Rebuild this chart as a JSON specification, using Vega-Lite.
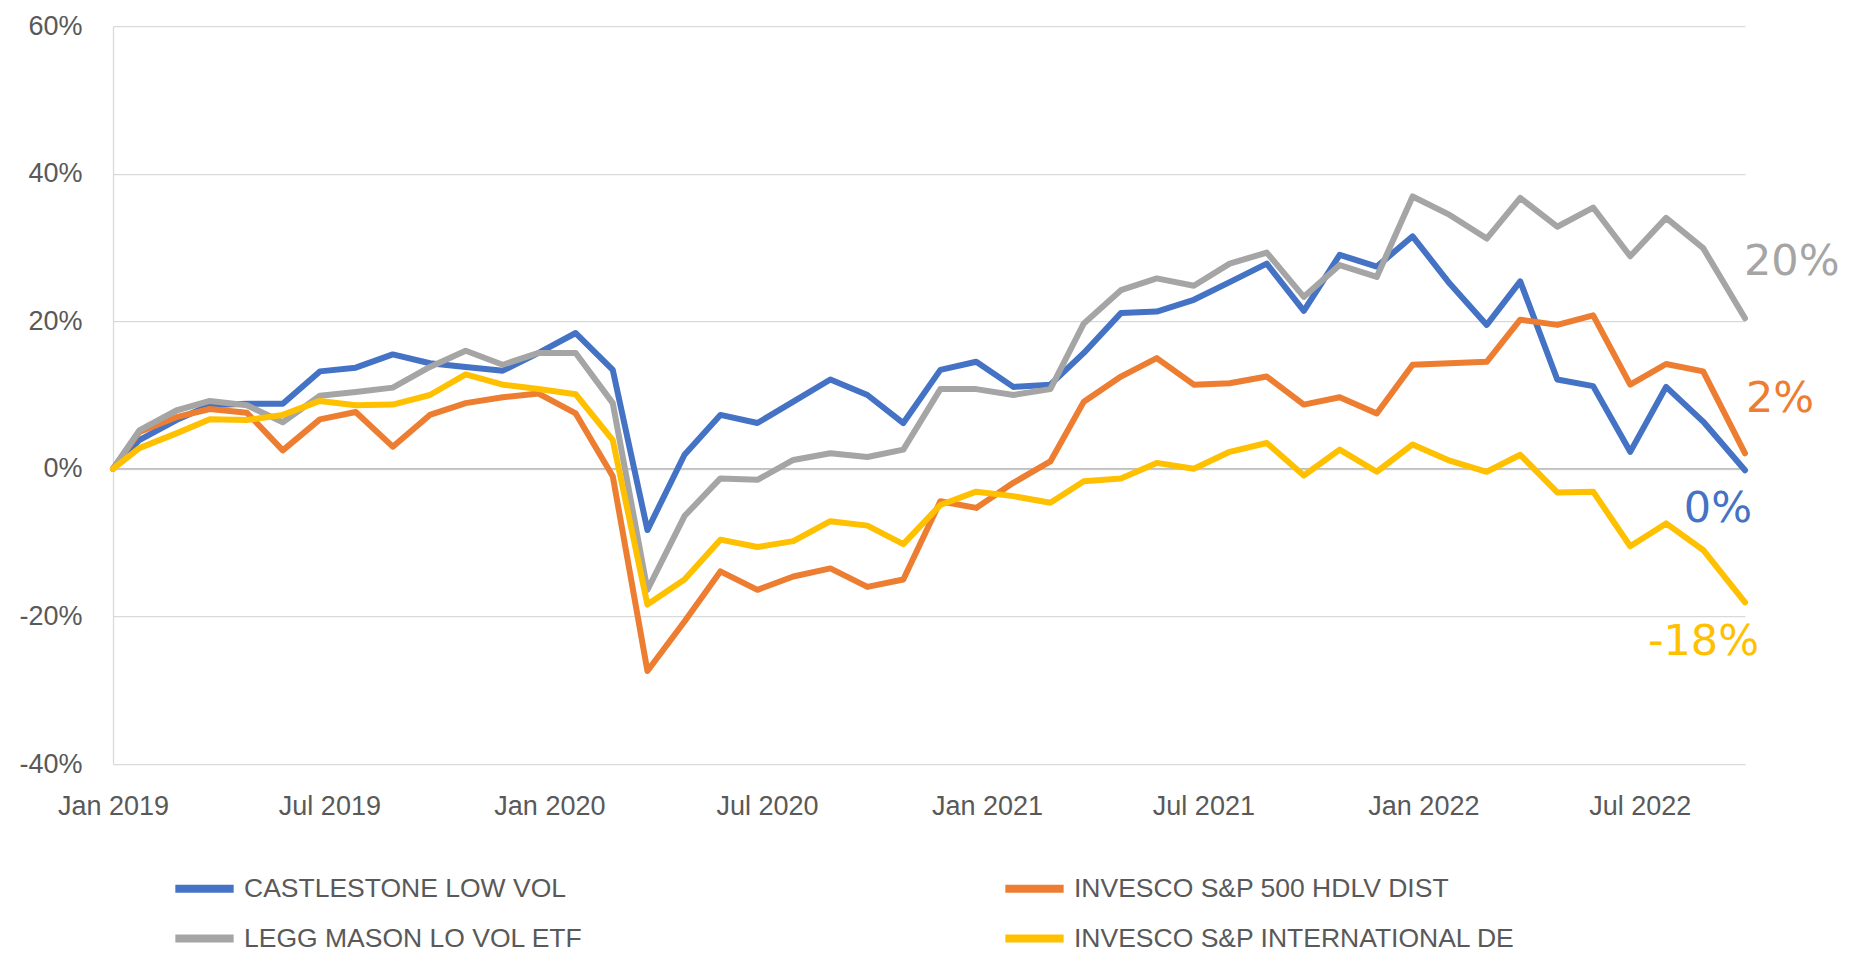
{
  "$schema": "https://vega.github.io/schema/vega-lite/v6.json",
  "width": 1632,
  "height": 738,
  "autosize": {"type": "none"},
  "padding": {"left": 113, "top": 26, "right": 120, "bottom": 197},
  "background": "white",
  "config": {"view": {"stroke": null}, "font": "Liberation Sans"},
  "datasets": {
    "series": [
      {"d": "2019-01-01", "CASTLESTONE LOW VOL": 0, "INVESCO S&P 500 HDLV DIST": 0, "LEGG MASON LO VOL ETF": 0, "INVESCO S&P INTERNATIONAL DE": 0},
      {"d": "2019-01-23", "CASTLESTONE LOW VOL": 3.9, "INVESCO S&P 500 HDLV DIST": 5.0, "LEGG MASON LO VOL ETF": 5.2, "INVESCO S&P INTERNATIONAL DE": 2.8},
      {"d": "2019-02-23", "CASTLESTONE LOW VOL": 6.6, "INVESCO S&P 500 HDLV DIST": 7.0, "LEGG MASON LO VOL ETF": 7.9, "INVESCO S&P INTERNATIONAL DE": 4.8},
      {"d": "2019-03-23", "CASTLESTONE LOW VOL": 8.6, "INVESCO S&P 500 HDLV DIST": 8.1, "LEGG MASON LO VOL ETF": 9.2, "INVESCO S&P INTERNATIONAL DE": 6.7},
      {"d": "2019-04-23", "CASTLESTONE LOW VOL": 8.8, "INVESCO S&P 500 HDLV DIST": 7.6, "LEGG MASON LO VOL ETF": 8.6, "INVESCO S&P INTERNATIONAL DE": 6.6},
      {"d": "2019-05-23", "CASTLESTONE LOW VOL": 8.8, "INVESCO S&P 500 HDLV DIST": 2.5, "LEGG MASON LO VOL ETF": 6.3, "INVESCO S&P INTERNATIONAL DE": 7.3},
      {"d": "2019-06-23", "CASTLESTONE LOW VOL": 13.2, "INVESCO S&P 500 HDLV DIST": 6.7, "LEGG MASON LO VOL ETF": 9.9, "INVESCO S&P INTERNATIONAL DE": 9.2},
      {"d": "2019-07-23", "CASTLESTONE LOW VOL": 13.7, "INVESCO S&P 500 HDLV DIST": 7.7, "LEGG MASON LO VOL ETF": 10.4, "INVESCO S&P INTERNATIONAL DE": 8.6},
      {"d": "2019-08-23", "CASTLESTONE LOW VOL": 15.5, "INVESCO S&P 500 HDLV DIST": 3.0, "LEGG MASON LO VOL ETF": 11.0, "INVESCO S&P INTERNATIONAL DE": 8.7},
      {"d": "2019-09-23", "CASTLESTONE LOW VOL": 14.3, "INVESCO S&P 500 HDLV DIST": 7.3, "LEGG MASON LO VOL ETF": 13.8, "INVESCO S&P INTERNATIONAL DE": 10.0},
      {"d": "2019-10-23", "CASTLESTONE LOW VOL": 13.8, "INVESCO S&P 500 HDLV DIST": 8.9, "LEGG MASON LO VOL ETF": 16.0, "INVESCO S&P INTERNATIONAL DE": 12.8},
      {"d": "2019-11-23", "CASTLESTONE LOW VOL": 13.3, "INVESCO S&P 500 HDLV DIST": 9.7, "LEGG MASON LO VOL ETF": 14.1, "INVESCO S&P INTERNATIONAL DE": 11.4},
      {"d": "2019-12-23", "CASTLESTONE LOW VOL": 15.7, "INVESCO S&P 500 HDLV DIST": 10.2, "LEGG MASON LO VOL ETF": 15.7, "INVESCO S&P INTERNATIONAL DE": 10.8},
      {"d": "2020-01-23", "CASTLESTONE LOW VOL": 18.4, "INVESCO S&P 500 HDLV DIST": 7.5, "LEGG MASON LO VOL ETF": 15.7, "INVESCO S&P INTERNATIONAL DE": 10.1},
      {"d": "2020-02-23", "CASTLESTONE LOW VOL": 13.4, "INVESCO S&P 500 HDLV DIST": -1.0, "LEGG MASON LO VOL ETF": 8.9, "INVESCO S&P INTERNATIONAL DE": 3.9},
      {"d": "2020-03-23", "CASTLESTONE LOW VOL": -8.3, "INVESCO S&P 500 HDLV DIST": -27.4, "LEGG MASON LO VOL ETF": -16.4, "INVESCO S&P INTERNATIONAL DE": -18.4},
      {"d": "2020-04-23", "CASTLESTONE LOW VOL": 1.9, "INVESCO S&P 500 HDLV DIST": -20.7, "LEGG MASON LO VOL ETF": -6.4, "INVESCO S&P INTERNATIONAL DE": -15.0},
      {"d": "2020-05-23", "CASTLESTONE LOW VOL": 7.3, "INVESCO S&P 500 HDLV DIST": -13.9, "LEGG MASON LO VOL ETF": -1.3, "INVESCO S&P INTERNATIONAL DE": -9.6},
      {"d": "2020-06-23", "CASTLESTONE LOW VOL": 6.2, "INVESCO S&P 500 HDLV DIST": -16.4, "LEGG MASON LO VOL ETF": -1.5, "INVESCO S&P INTERNATIONAL DE": -10.6},
      {"d": "2020-07-23", "CASTLESTONE LOW VOL": 9.1, "INVESCO S&P 500 HDLV DIST": -14.6, "LEGG MASON LO VOL ETF": 1.2, "INVESCO S&P INTERNATIONAL DE": -9.8},
      {"d": "2020-08-23", "CASTLESTONE LOW VOL": 12.1, "INVESCO S&P 500 HDLV DIST": -13.5, "LEGG MASON LO VOL ETF": 2.1, "INVESCO S&P INTERNATIONAL DE": -7.1},
      {"d": "2020-09-23", "CASTLESTONE LOW VOL": 10.0, "INVESCO S&P 500 HDLV DIST": -16.0, "LEGG MASON LO VOL ETF": 1.6, "INVESCO S&P INTERNATIONAL DE": -7.7},
      {"d": "2020-10-23", "CASTLESTONE LOW VOL": 6.2, "INVESCO S&P 500 HDLV DIST": -15.0, "LEGG MASON LO VOL ETF": 2.6, "INVESCO S&P INTERNATIONAL DE": -10.2},
      {"d": "2020-11-23", "CASTLESTONE LOW VOL": 13.4, "INVESCO S&P 500 HDLV DIST": -4.4, "LEGG MASON LO VOL ETF": 10.8, "INVESCO S&P INTERNATIONAL DE": -4.9},
      {"d": "2020-12-23", "CASTLESTONE LOW VOL": 14.5, "INVESCO S&P 500 HDLV DIST": -5.3, "LEGG MASON LO VOL ETF": 10.8, "INVESCO S&P INTERNATIONAL DE": -3.1},
      {"d": "2021-01-23", "CASTLESTONE LOW VOL": 11.1, "INVESCO S&P 500 HDLV DIST": -1.9, "LEGG MASON LO VOL ETF": 10.0, "INVESCO S&P INTERNATIONAL DE": -3.7},
      {"d": "2021-02-23", "CASTLESTONE LOW VOL": 11.4, "INVESCO S&P 500 HDLV DIST": 1.0, "LEGG MASON LO VOL ETF": 10.8, "INVESCO S&P INTERNATIONAL DE": -4.6},
      {"d": "2021-03-23", "CASTLESTONE LOW VOL": 15.7, "INVESCO S&P 500 HDLV DIST": 9.1, "LEGG MASON LO VOL ETF": 19.7, "INVESCO S&P INTERNATIONAL DE": -1.7},
      {"d": "2021-04-23", "CASTLESTONE LOW VOL": 21.1, "INVESCO S&P 500 HDLV DIST": 12.5, "LEGG MASON LO VOL ETF": 24.2, "INVESCO S&P INTERNATIONAL DE": -1.3},
      {"d": "2021-05-23", "CASTLESTONE LOW VOL": 21.3, "INVESCO S&P 500 HDLV DIST": 15.0, "LEGG MASON LO VOL ETF": 25.8, "INVESCO S&P INTERNATIONAL DE": 0.8},
      {"d": "2021-06-23", "CASTLESTONE LOW VOL": 22.9, "INVESCO S&P 500 HDLV DIST": 11.4, "LEGG MASON LO VOL ETF": 24.8, "INVESCO S&P INTERNATIONAL DE": 0.0},
      {"d": "2021-07-23", "CASTLESTONE LOW VOL": 25.3, "INVESCO S&P 500 HDLV DIST": 11.6, "LEGG MASON LO VOL ETF": 27.8, "INVESCO S&P INTERNATIONAL DE": 2.3},
      {"d": "2021-08-23", "CASTLESTONE LOW VOL": 27.8, "INVESCO S&P 500 HDLV DIST": 12.5, "LEGG MASON LO VOL ETF": 29.3, "INVESCO S&P INTERNATIONAL DE": 3.5},
      {"d": "2021-09-23", "CASTLESTONE LOW VOL": 21.4, "INVESCO S&P 500 HDLV DIST": 8.7, "LEGG MASON LO VOL ETF": 23.3, "INVESCO S&P INTERNATIONAL DE": -0.9},
      {"d": "2021-10-23", "CASTLESTONE LOW VOL": 29.0, "INVESCO S&P 500 HDLV DIST": 9.7, "LEGG MASON LO VOL ETF": 27.6, "INVESCO S&P INTERNATIONAL DE": 2.6},
      {"d": "2021-11-23", "CASTLESTONE LOW VOL": 27.4, "INVESCO S&P 500 HDLV DIST": 7.5, "LEGG MASON LO VOL ETF": 26.0, "INVESCO S&P INTERNATIONAL DE": -0.4},
      {"d": "2021-12-23", "CASTLESTONE LOW VOL": 31.5, "INVESCO S&P 500 HDLV DIST": 14.1, "LEGG MASON LO VOL ETF": 36.9, "INVESCO S&P INTERNATIONAL DE": 3.3},
      {"d": "2022-01-23", "CASTLESTONE LOW VOL": 25.1, "INVESCO S&P 500 HDLV DIST": 14.3, "LEGG MASON LO VOL ETF": 34.4, "INVESCO S&P INTERNATIONAL DE": 1.1},
      {"d": "2022-02-23", "CASTLESTONE LOW VOL": 19.5, "INVESCO S&P 500 HDLV DIST": 14.5, "LEGG MASON LO VOL ETF": 31.2, "INVESCO S&P INTERNATIONAL DE": -0.4},
      {"d": "2022-03-23", "CASTLESTONE LOW VOL": 25.4, "INVESCO S&P 500 HDLV DIST": 20.2, "LEGG MASON LO VOL ETF": 36.7, "INVESCO S&P INTERNATIONAL DE": 1.9},
      {"d": "2022-04-23", "CASTLESTONE LOW VOL": 12.1, "INVESCO S&P 500 HDLV DIST": 19.5, "LEGG MASON LO VOL ETF": 32.8, "INVESCO S&P INTERNATIONAL DE": -3.2},
      {"d": "2022-05-23", "CASTLESTONE LOW VOL": 11.2, "INVESCO S&P 500 HDLV DIST": 20.8, "LEGG MASON LO VOL ETF": 35.4, "INVESCO S&P INTERNATIONAL DE": -3.1},
      {"d": "2022-06-23", "CASTLESTONE LOW VOL": 2.3, "INVESCO S&P 500 HDLV DIST": 11.4, "LEGG MASON LO VOL ETF": 28.8, "INVESCO S&P INTERNATIONAL DE": -10.5},
      {"d": "2022-07-23", "CASTLESTONE LOW VOL": 11.1, "INVESCO S&P 500 HDLV DIST": 14.2, "LEGG MASON LO VOL ETF": 34.0, "INVESCO S&P INTERNATIONAL DE": -7.4},
      {"d": "2022-08-23", "CASTLESTONE LOW VOL": 6.4, "INVESCO S&P 500 HDLV DIST": 13.2, "LEGG MASON LO VOL ETF": 29.9, "INVESCO S&P INTERNATIONAL DE": -11.0},
      {"d": "2022-09-27", "CASTLESTONE LOW VOL": -0.2, "INVESCO S&P 500 HDLV DIST": 2.1, "LEGG MASON LO VOL ETF": 20.4, "INVESCO S&P INTERNATIONAL DE": -18.1}
    ],
    "ends": [
      {"s": "CASTLESTONE LOW VOL", "d": "2022-09-27", "v": -0.2, "label": "0%"},
      {"s": "INVESCO S&P 500 HDLV DIST", "d": "2022-09-27", "v": 2.1, "label": "2%"},
      {"s": "LEGG MASON LO VOL ETF", "d": "2022-09-27", "v": 20.4, "label": "20%"},
      {"s": "INVESCO S&P INTERNATIONAL DE", "d": "2022-09-27", "v": -18.1, "label": "-18%"}
    ]
  },
  "layer": [
    {
      "data": {"values": [{"z": 0}]},
      "mark": {"type": "rule", "color": "#BFBFBF", "strokeWidth": 1.5},
      "encoding": {"y": {"field": "z", "type": "quantitative"}}
    },
    {
      "data": {"name": "series"},
      "transform": [
        {"fold": ["CASTLESTONE LOW VOL", "INVESCO S&P 500 HDLV DIST", "LEGG MASON LO VOL ETF", "INVESCO S&P INTERNATIONAL DE"], "as": ["s", "v"]}
      ],
      "mark": {"type": "line", "strokeWidth": 6, "strokeJoin": "round", "strokeCap": "round"},
      "encoding": {
        "x": {
          "field": "d", "type": "temporal",
          "scale": {"type": "utc", "domain": [{"year": 2019, "month": 1, "date": 1, "utc": true}, {"year": 2022, "month": 9, "date": 27, "utc": true}]},
          "axis": {
            "title": null, "grid": false, "domain": false, "ticks": false,
            "values": [
              {"year": 2019, "month": 1, "date": 1, "utc": true},
              {"year": 2019, "month": 7, "date": 1, "utc": true},
              {"year": 2020, "month": 1, "date": 1, "utc": true},
              {"year": 2020, "month": 7, "date": 1, "utc": true},
              {"year": 2021, "month": 1, "date": 1, "utc": true},
              {"year": 2021, "month": 7, "date": 1, "utc": true},
              {"year": 2022, "month": 1, "date": 1, "utc": true},
              {"year": 2022, "month": 7, "date": 1, "utc": true}
            ],
            "labelExpr": "utcFormat(datum.value, '%b %Y')",
            "labelPadding": 29, "labelFontSize": 27, "labelColor": "#595959",
            "labelFont": "Liberation Sans", "labelOverlap": false, "labelFlush": false
          }
        },
        "y": {
          "field": "v", "type": "quantitative",
          "scale": {"domain": [-40, 60], "nice": false, "zero": false},
          "axis": {
            "title": null, "values": [-40, -20, 0, 20, 40, 60],
            "labelExpr": "datum.value + '%'",
            "grid": true, "gridColor": "#D9D9D9", "gridWidth": 1.25,
            "domainColor": "#D9D9D9", "domainWidth": 1.25, "ticks": false,
            "labelPadding": 31, "labelFontSize": 27, "labelColor": "#595959",
            "labelFont": "Liberation Sans"
          }
        },
        "color": {
          "field": "s", "type": "nominal",
          "scale": {
            "domain": ["CASTLESTONE LOW VOL", "LEGG MASON LO VOL ETF", "INVESCO S&P 500 HDLV DIST", "INVESCO S&P INTERNATIONAL DE"],
            "range": ["#4472C4", "#A5A5A5", "#ED7D31", "#FFC000"]
          },
          "legend": {
            "title": null, "orient": "none", "legendX": 58, "legendY": 829,
            "columns": 2, "padding": 0,
            "symbolType": "stroke", "symbolStrokeWidth": 8, "symbolSize": 3400,
            "labelFont": "Liberation Sans", "labelFontSize": 26.5, "labelColor": "#595959",
            "labelOffset": 6, "columnPadding": 406, "rowPadding": -13.5, "labelLimit": 1000
          }
        }
      }
    },
    {
      "data": {"name": "ends"},
      "transform": [{"filter": "datum.s == 'LEGG MASON LO VOL ETF'"}],
      "mark": {"type": "text", "align": "left", "baseline": "alphabetic", "dx": -1, "dy": -43, "font": "DejaVu Sans", "fontSize": 43, "color": "#A5A5A5"},
      "encoding": {"x": {"field": "d", "type": "temporal"}, "y": {"field": "v", "type": "quantitative"}, "text": {"field": "label"}}
    },
    {
      "data": {"name": "ends"},
      "transform": [{"filter": "datum.s == 'INVESCO S&P 500 HDLV DIST'"}],
      "mark": {"type": "text", "align": "left", "baseline": "alphabetic", "dx": 1, "dy": -41, "font": "DejaVu Sans", "fontSize": 43, "color": "#ED7D31"},
      "encoding": {"x": {"field": "d", "type": "temporal"}, "y": {"field": "v", "type": "quantitative"}, "text": {"field": "label"}}
    },
    {
      "data": {"name": "ends"},
      "transform": [{"filter": "datum.s == 'CASTLESTONE LOW VOL'"}],
      "mark": {"type": "text", "align": "right", "baseline": "alphabetic", "dx": 7, "dy": 52, "font": "DejaVu Sans", "fontSize": 43, "color": "#4472C4"},
      "encoding": {"x": {"field": "d", "type": "temporal"}, "y": {"field": "v", "type": "quantitative"}, "text": {"field": "label"}}
    },
    {
      "data": {"name": "ends"},
      "transform": [{"filter": "datum.s == 'INVESCO S&P INTERNATIONAL DE'"}],
      "mark": {"type": "text", "align": "right", "baseline": "alphabetic", "dx": 14, "dy": 53, "font": "DejaVu Sans", "fontSize": 43, "color": "#FFC000"},
      "encoding": {"x": {"field": "d", "type": "temporal"}, "y": {"field": "v", "type": "quantitative"}, "text": {"field": "label"}}
    }
  ]
}
